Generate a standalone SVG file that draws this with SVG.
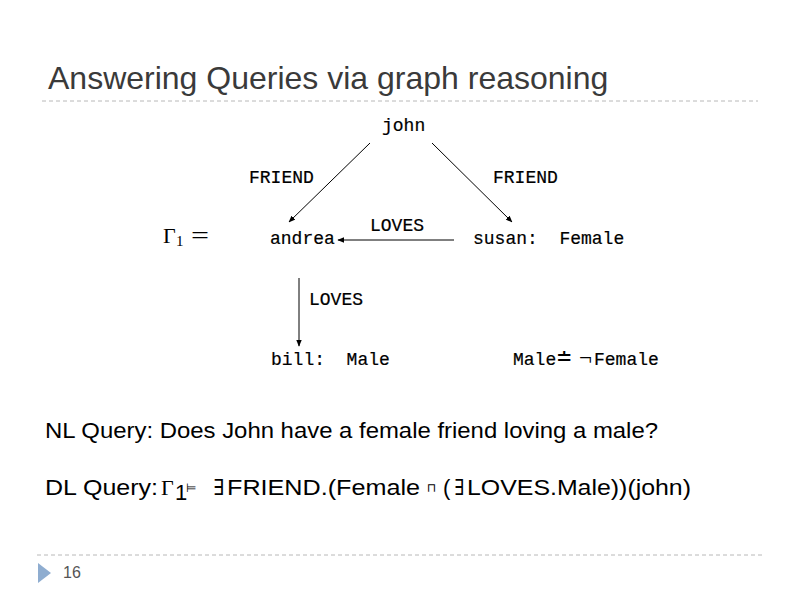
<svg xmlns="http://www.w3.org/2000/svg" width="800" height="600" viewBox="0 0 800 600">
<style>
.title{font-family:"Liberation Sans",Arial,sans-serif;font-size:32px;fill:#3a3a3a}
.tt{font-family:"Liberation Mono","Courier New",monospace;font-size:18px;fill:#000;stroke:#000;stroke-width:0.2}
.ser{font-family:"Liberation Serif","Times New Roman",serif;fill:#000}
.body{font-family:"Liberation Sans",Arial,sans-serif;font-size:22px;fill:#000}
.sym{font-family:"DejaVu Sans",sans-serif;font-size:12px;fill:#000}
.sep{stroke:#b8b8b8;stroke-width:1;stroke-dasharray:4 3;fill:none}
.edge{stroke:#000;stroke-width:1;fill:none;marker-end:url(#ah)}
</style>
<defs>
<marker id="ah" viewBox="0 0 10 10" refX="9" refY="5" markerWidth="7" markerHeight="7" orient="auto" markerUnits="userSpaceOnUse">
<path d="M0,1 L10,5 L0,9 Z" fill="#000"/>
</marker>
</defs>
<rect width="800" height="600" fill="#fff"/>
<text class="title" x="48" y="89">Answering Queries via graph reasoning</text>
<line class="sep" x1="42" y1="101" x2="758" y2="101"/>

<g id="connectors">
<line class="edge" x1="370" y1="143" x2="289" y2="222"/>
<line class="edge" x1="432" y1="143" x2="512" y2="222"/>
<line class="edge" x1="454" y1="240" x2="338" y2="240"/>
<line class="edge" x1="299" y1="278" x2="299" y2="346"/>
<text class="tt" x="249" y="183">FRIEND</text>
<text class="tt" x="493" y="183">FRIEND</text>
<text class="tt" x="370" y="231">LOVES</text>
<text class="tt" x="309" y="305">LOVES</text>
</g>

<g id="gamma">
<text class="ser" x="163" y="243" font-size="22">Γ</text>
<text class="ser" x="176" y="246" font-size="15">1</text>
<text class="ser" x="191" y="243" font-size="24" textLength="18" lengthAdjust="spacingAndGlyphs">=</text>
</g>
<g id="john"><text class="tt" x="382" y="131">john</text></g>
<g id="andrea"><text class="tt" x="270" y="244">andrea</text></g>
<g id="susan"><text class="tt" x="473" y="244" xml:space="preserve">susan:  Female</text></g>
<g id="bill"><text class="tt" x="271" y="365" xml:space="preserve">bill:  Male</text></g>
<g id="axiom">
<text class="tt" x="513" y="365">Male</text>
<text class="ser" x="556" y="365" font-size="22" textLength="16" lengthAdjust="spacingAndGlyphs">≐</text>
<text class="ser" x="579" y="365" font-size="22" textLength="13" lengthAdjust="spacingAndGlyphs">¬</text>
<text class="tt" x="594" y="365">Female</text>
</g>

<text class="body" x="45" y="438" textLength="613" lengthAdjust="spacingAndGlyphs">NL Query: Does John have a female friend loving a male?</text>
<text class="body" x="45" y="495" textLength="113" lengthAdjust="spacingAndGlyphs">DL Query:</text>
<text class="ser" x="161" y="495" font-size="22">Γ</text>
<text class="body" x="175" y="500" font-size="13">1</text>
<text class="sym" x="186" y="492">⊨</text>
<text class="body" x="213" y="495" textLength="11" lengthAdjust="spacingAndGlyphs">∃</text>
<text class="body" x="227" y="495" textLength="193" lengthAdjust="spacingAndGlyphs">FRIEND.(Female</text>
<text class="sym" x="427" y="492">⊓</text>
<text class="body" x="443" y="495">(</text>
<text class="body" x="454" y="495" textLength="10" lengthAdjust="spacingAndGlyphs">∃</text>
<text class="body" x="467" y="495" textLength="224" lengthAdjust="spacingAndGlyphs">LOVES.Male))(john)</text>

<line class="sep" x1="37" y1="555" x2="763" y2="555"/>
<path d="M38,563 L51,573 L38,583 Z" fill="#8fadd0"/>
<text x="63" y="578" font-family="Liberation Sans,Arial,sans-serif" font-size="16" fill="#555">16</text>
</svg>
